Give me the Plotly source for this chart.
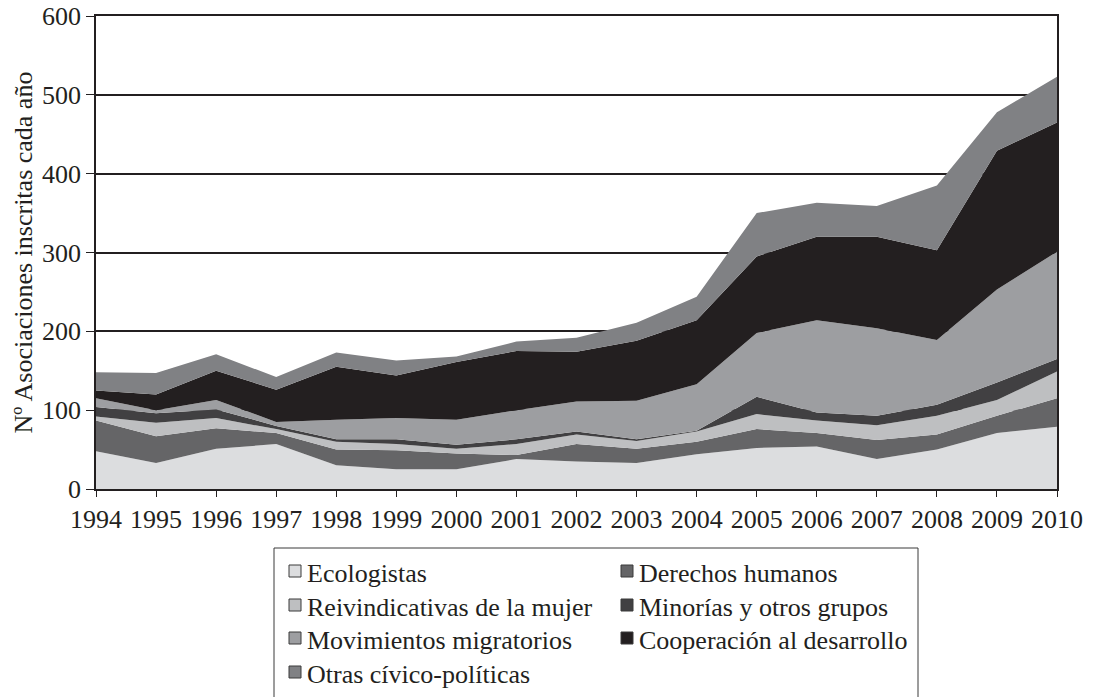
import plotly.graph_objects as go

years = list(range(1994, 2011))

ecologistas     = [48, 33, 51, 57, 30, 25, 25, 38, 35, 33, 44, 52, 54, 38, 50, 71, 79]
derechos        = [39, 34, 26, 14, 20, 24, 20, 5, 22, 18, 16, 24, 17, 24, 19, 22, 36]
mujer           = [5, 17, 13, 5, 10, 8, 6, 14, 12, 10, 13, 19, 16, 19, 24, 20, 34]
minorias        = [12, 12, 11, 4, 3, 6, 5, 6, 4, 2, 1, 22, 10, 12, 14, 22, 16]
migratorios     = [11, 4, 12, 5, 25, 27, 32, 37, 38, 49, 59, 81, 117, 111, 82, 118, 136]
cooperacion     = [10, 20, 37, 41, 67, 54, 73, 75, 63, 76, 81, 97, 106, 116, 114, 176, 164]
otras           = [23, 27, 21, 16, 18, 19, 7, 12, 18, 23, 30, 55, 43, 39, 82, 49, 58]

names = ["Ecologistas", "Derechos humanos", "Reivindicativas de la mujer",
         "Minorías y otros grupos", "Movimientos migratorios",
         "Cooperación al desarrollo", "Otras cívico-políticas"]
series = [ecologistas, derechos, mujer, minorias, migratorios, cooperacion, otras]
colors = ["#dcdddf", "#656567", "#bebfc1", "#414042", "#9d9ea1", "#231f20", "#808184"]

FONT = "Liberation Serif, Times New Roman, serif"
INK = "#231f20"

# Plot-area geometry in page px
W, H = 1099, 697
PL, PR, PT, PB = 96, 1057, 16, 489
PW, PH = PR - PL, PB - PT


def px(x):
    return (x - PL) / PW


def py(y):
    return (PB - y) / PH


fig = go.Figure()
for name, vals, col in zip(names, series, colors):
    fig.add_trace(go.Scatter(
        x=years, y=vals, name=name, stackgroup="one", mode="lines",
        line=dict(width=0, color=col), fillcolor=col, showlegend=False,
        hoverinfo="x+y+name"))

# Legend (two columns, row-wise order), drawn in paper coordinates
shapes = [dict(type="rect", xref="paper", yref="paper",
               x0=px(274), x1=px(918), y0=py(706), y1=py(548),
               line=dict(color="#3a3a3a", width=1), fillcolor="rgba(0,0,0,0)")]
annotations = []
col_sq = [289, 621]
col_tx = [305, 637]
rows = [573, 607, 640, 674]
for i, (name, col) in enumerate(zip(names, colors)):
    r, c = divmod(i, 2)
    cy = rows[r]
    sx = col_sq[c]
    shapes.append(dict(type="rect", xref="paper", yref="paper",
                       x0=px(sx), x1=px(sx + 12), y0=py(cy + 4), y1=py(cy - 8),
                       line=dict(color="#3a3a3a", width=1), fillcolor=col))
    annotations.append(dict(xref="paper", yref="paper", x=px(col_tx[c]), y=py(cy),
                            text=name, showarrow=False, xanchor="left",
                            yanchor="middle",
                            font=dict(family=FONT, size=26, color=INK)))

fig.update_layout(
    width=W, height=H,
    margin=dict(l=PL, r=W - PR, t=PT, b=H - PB, autoexpand=False),
    paper_bgcolor="white", plot_bgcolor="white",
    font=dict(family=FONT, size=26, color=INK),
    showlegend=False,
    shapes=shapes,
    annotations=annotations,
    xaxis=dict(
        range=[1994, 2010], tickmode="linear", tick0=1994, dtick=1,
        showgrid=False, zeroline=False, showline=True, linecolor=INK,
        linewidth=1.5, mirror=True, ticks="outside", ticklen=6,
        tickcolor=INK, tickwidth=1.2, automargin=False,
        tickfont=dict(family=FONT, size=26, color=INK)),
    yaxis=dict(
        range=[0, 600], tickmode="linear", tick0=0, dtick=100,
        showgrid=True, gridcolor=INK, gridwidth=1.5, zeroline=False,
        showline=True, linecolor=INK, linewidth=1.5, mirror=True,
        ticks="outside", ticklen=8, tickcolor=INK, tickwidth=1.2,
        automargin=False, ticklabeloverflow="allow",
        tickfont=dict(family=FONT, size=26, color=INK),
        title=dict(text="Nº Asociaciones inscritas cada año",
                   font=dict(family=FONT, size=26, color=INK), standoff=2)),
)

fig.write_html("out.html",
               config={"displayModeBar": False},
               post_script="document.body.style.margin='0';"
                           "document.body.style.padding='0';")
